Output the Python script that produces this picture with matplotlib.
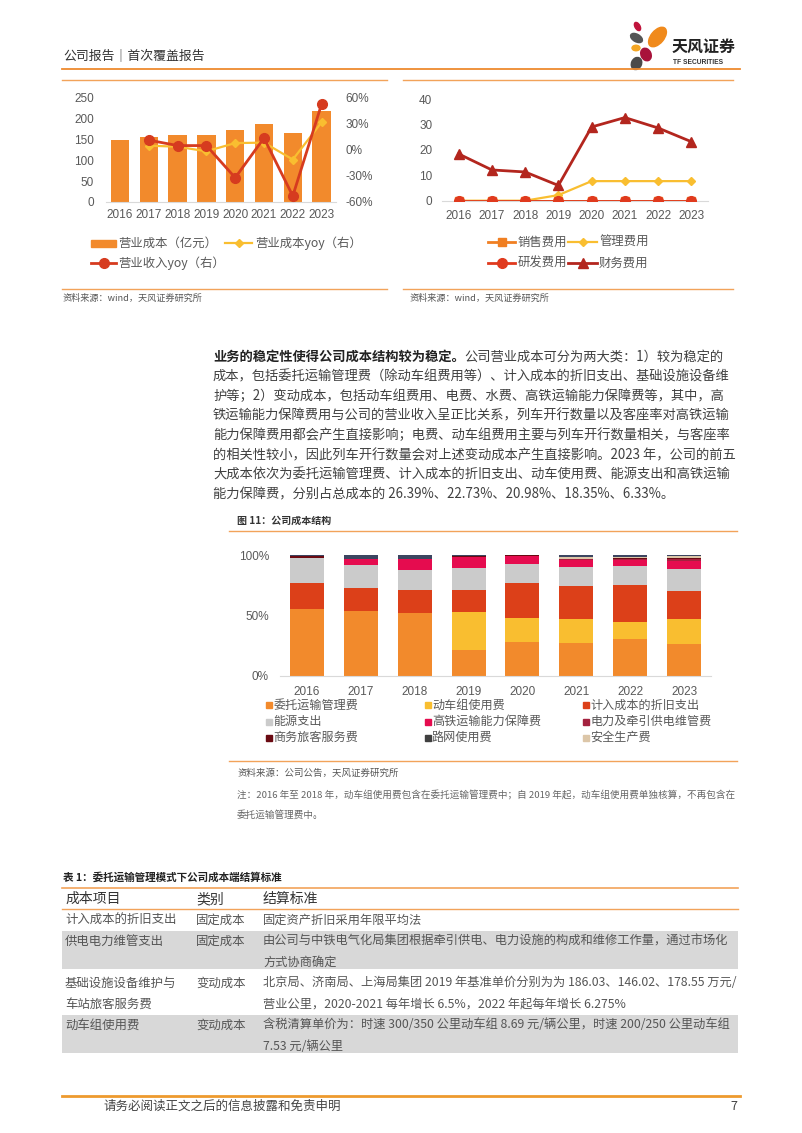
import matplotlib
matplotlib.use('Agg')
import matplotlib.pyplot as plt
from matplotlib.patches import Rectangle, Ellipse
from matplotlib.lines import Line2D
import numpy as np

W, H = 802, 1133
plt.rcParams['font.family'] = ['Liberation Sans', 'Noto Sans CJK SC']
CJK = ['Noto Sans CJK SC', 'Liberation Sans']

# ---------------- data ----------------
years = ['2016', '2017', '2018', '2019', '2020', '2021', '2022', '2023']
op_cost = [149, 156, 162, 160, 172, 187, 167, 218]                       # 营业成本（亿元）
op_cost_yoy = [np.nan, 5.0, 3.8, -1.5, 8.0, 8.5, -11.0, 32.0]             # 营业成本yoy %
revenue_yoy = [np.nan, 11.4, 5.1, 5.1, -32.0, 13.8, -53.0, 53.0]          # 营业收入yoy %

sales_fee = [0, 0, 0, 0, 0, 0, 0, 0]
admin_fee = [0, 0, 0, 2.2, 7.7, 7.7, 7.7, 7.7]
rd_fee = [0, 0, 0, 0, 0, 0, 0, 0]
fin_fee = [18.4, 12.1, 11.3, 6.0, 29.0, 32.7, 28.6, 23.2]

cost_items = ['委托运输管理费', '动车组使用费', '计入成本的折旧支出', '能源支出',
              '高铁运输能力保障费', '电力及牵引供电维管费', '商务旅客服务费',
              '路网使用费', '安全生产费']
share_entrust = [55.4, 53.7, 52.1, 21.8, 27.8, 27.0, 30.3, 26.39]
share_emu = [0, 0, 0, 31.1, 20.1, 20.1, 14.3, 20.98]
share_depr = [21.7, 18.8, 19.0, 18.2, 29.2, 27.6, 30.6, 22.73]
share_energy = [20.7, 19.2, 16.5, 18.2, 15.7, 15.7, 16.0, 18.35]
share_hsr = [0, 4.6, 9.1, 8.9, 6.1, 5.5, 5.0, 6.33]
share_power = [0, 0, 0, 0.4, 0.3, 0.6, 0.5, 1.6]
share_service = [1.0, 0.5, 0, 0.6, 0.5, 0.6, 0.5, 0.8]
share_network = [1.2, 3.2, 3.3, 0.8, 0.3, 1.3, 1.3, 1.2]
share_safety = [0, 0, 0, 0, 0, 1.6, 1.5, 1.62]

C_ORANGE = '#F28A2C'
C_YELLOW = '#F9BE30'
C_RED = '#DC4019'
C_GRAY = '#CBCBCB'
C_CRIMSON = '#E50C4F'
C_POWER = '#A4223F'
C_SERVICE = '#6A0A12'
C_NETWORK = '#3C4560'
C_SAFETY = '#DCC6A8'
LINE_OR = '#F2A35A'
TXT = '#404040'
TICK = '#595959'

fig = plt.figure(figsize=(W / 100, H / 100), dpi=100)
fig.patch.set_facecolor('white')

ov = fig.add_axes([0, 0, 1, 1])
ov.set_xlim(0, W)
ov.set_ylim(H, 0)
ov.axis('off')


def rect(x0, y0, x1, y1):
    return [x0 / W, 1 - y1 / H, (x1 - x0) / W, (y1 - y0) / H]


def hline(y, x0, x1, color=LINE_OR, lw=1.0):
    ov.add_line(Line2D([x0, x1], [y, y], color=color, lw=lw))


def txt(x, y, s, size, color=TXT, weight='normal', ha='left', fam=CJK):
    return ov.text(x, y, s, fontsize=size, color=color, fontweight=weight,
                   ha=ha, va='center', family=fam)


# ---------------- header ----------------
txt(63, 57, '公司报告｜首次覆盖报告', 9.3, color='#333333')
hline(69, 62, 740, color='#EE8A2E', lw=1.3)
# logo
ov.add_patch(Ellipse((637.5, 26.5), 5, 9, angle=-30, color='#C0143C'))
ov.add_patch(Ellipse((636.5, 38), 13, 7.5, angle=30, color='#555555'))
ov.add_patch(Ellipse((657.5, 37), 13, 23, angle=40, color='#F08A1C'))
ov.add_patch(Ellipse((636, 48), 8, 5.5, angle=0, color='#F5A623'))
ov.add_patch(Ellipse((646, 54.5), 10, 13, angle=-25, color='#A8123A'))
ov.add_patch(Ellipse((636.5, 63.5), 10, 12.5, angle=25, color='#4A4A4A'))
txt(672, 47, '天风证券', 11.5, color='#222222', weight='bold')
txt(673, 63, 'TF SECURITIES', 4.8, color='#333333', weight='bold', fam=['Liberation Sans'])

# ---------------- top panels frames ----------------
hline(80, 62, 387)
hline(80, 403, 733)
hline(289, 62, 387)
hline(289, 403, 733)
txt(63, 298, '资料来源：wind，天风证券研究所', 6.6, color='#555555')
txt(410, 298, '资料来源：wind，天风证券研究所', 6.6, color='#555555')

x = np.arange(len(years))


def style_axis(ax, pad_y, pad_x, size=8.5):
    for s in ax.spines.values():
        s.set_visible(False)
    ax.tick_params(axis='both', length=0, labelsize=size, labelcolor=TICK)
    ax.tick_params(axis='y', pad=pad_y)
    ax.tick_params(axis='x', pad=pad_x)
    ax.set_facecolor('none')


# ---------------- chart 1 ----------------
ax1 = fig.add_axes(rect(105.6, 98, 336, 202))
ax1.bar(x, op_cost, width=0.64, color=C_ORANGE, zorder=2)
ax1.set_xlim(-0.5, len(years) - 0.5)
ax1.set_ylim(0, 250)
ax1.set_yticks(range(0, 251, 50))
ax1.set_xticks(x)
ax1.set_xticklabels(years)
style_axis(ax1, 8.5, 5)
ax1.spines['bottom'].set_visible(True)
ax1.spines['bottom'].set_color('#D9D9D9')
ax1b = ax1.twinx()
ax1b.plot(x, op_cost_yoy, color=C_YELLOW, lw=1.6, marker='D', ms=4.2, zorder=3)
ax1b.plot(x, revenue_yoy, color='#D63B1F', lw=2.0, marker='o', ms=7, zorder=4)
ax1b.set_ylim(-60, 60)
ax1b.set_yticks([-60, -30, 0, 30, 60])
ax1b.set_yticklabels([f'{v}%' for v in [-60, -30, 0, 30, 60]])
style_axis(ax1b, 7, 5)

# legend 1 (manual)
LG = 8.9
ov.add_patch(Rectangle((91, 239.5), 25, 7, color=C_ORANGE))
txt(118, 243, '营业成本（亿元）', LG, color=TICK)
ov.add_line(Line2D([225, 252], [243, 243], color=C_YELLOW, lw=1.6))
ov.add_line(Line2D([238.5], [243], color=C_YELLOW, marker='D', ms=4.2))
txt(255, 243, '营业成本yoy（右）', LG, color=TICK)
ov.add_line(Line2D([91, 116], [263, 263], color='#D63B1F', lw=2.0))
ov.add_line(Line2D([103.5], [263], color='#D63B1F', marker='o', ms=7))
txt(118, 263, '营业收入yoy（右）', LG, color=TICK)

# ---------------- chart 2 ----------------
ax2 = fig.add_axes(rect(442, 99, 708, 200.7))
ax2.plot(x, sales_fee, color='#F07F22', lw=2, marker='s', ms=6, zorder=3)
ax2.plot(x, admin_fee, color=C_YELLOW, lw=1.6, marker='D', ms=4.2, zorder=3)
ax2.plot(x, rd_fee, color='#E03A1E', lw=2, marker='o', ms=7, zorder=4)
ax2.plot(x, fin_fee, color='#B3261E', lw=2, marker='^', ms=6.5, zorder=5)
ax2.set_xlim(-0.5, len(years) - 0.5)
ax2.set_ylim(0, 40)
ax2.set_yticks(range(0, 41, 10))
ax2.set_xticks(x)
ax2.set_xticklabels(years)
style_axis(ax2, 7, 6.5)
ax2.spines['bottom'].set_visible(True)
ax2.spines['bottom'].set_color('#D9D9D9')

ov.add_line(Line2D([488, 515], [242, 242], color='#F07F22', lw=2))
ov.add_line(Line2D([501.5], [242], color='#F07F22', marker='s', ms=6))
txt(518, 242, '销售费用', LG, color=TICK)
ov.add_line(Line2D([568, 597], [242, 242], color=C_YELLOW, lw=1.6))
ov.add_line(Line2D([582.5], [242], color=C_YELLOW, marker='D', ms=4.2))
txt(599, 242, '管理费用', LG, color=TICK)
ov.add_line(Line2D([488, 515], [263, 263], color='#E03A1E', lw=2))
ov.add_line(Line2D([501.5], [263], color='#E03A1E', marker='o', ms=7))
txt(518, 263, '研发费用', LG, color=TICK)
ov.add_line(Line2D([568, 597], [263, 263], color='#B3261E', lw=2))
ov.add_line(Line2D([582.5], [263], color='#B3261E', marker='^', ms=6.5))
txt(599, 263, '财务费用', LG, color=TICK)

# ---------------- paragraph ----------------
para_bold = '业务的稳定性使得公司成本结构较为稳定。'
para_lines = [
    '公司营业成本可分为两大类：1）较为稳定的',
    '成本，包括委托运输管理费（除动车组费用等）、计入成本的折旧支出、基础设施设备维',
    '护等；2）变动成本，包括动车组费用、电费、水费、高铁运输能力保障费等，其中，高',
    '铁运输能力保障费用与公司的营业收入呈正比关系，列车开行数量以及客座率对高铁运输',
    '能力保障费用都会产生直接影响；电费、动车组费用主要与列车开行数量相关，与客座率',
    '的相关性较小，因此列车开行数量会对上述变动成本产生直接影响。2023 年，公司的前五',
    '大成本依次为委托运输管理费、计入成本的折旧支出、动车使用费、能源支出和高铁运输',
    '能力保障费，分别占总成本的 26.39%、22.73%、20.98%、18.35%、6.33%。',
]
PS = 9.55
y0 = 357
bt = txt(213, y0, para_bold, PS, color='#222222', weight='bold')
ov.annotate(para_lines[0], xy=(1, 0.5), xycoords=bt, va='center', ha='left',
            fontsize=PS, color=TXT, family=CJK)
for i, line in enumerate(para_lines[1:], start=1):
    txt(213, y0 + 19.6 * i, line, PS)

# ---------------- chart 3 ----------------
txt(237, 521, '图 11：公司成本结构', 7.2, color='#333333', weight='bold')
hline(531, 229, 737)
ax3 = fig.add_axes(rect(280, 555, 711, 676))
stack = [
    (share_entrust, C_ORANGE),
    (share_emu, C_YELLOW),
    (share_depr, C_RED),
    (share_energy, C_GRAY),
    (share_hsr, C_CRIMSON),
    (share_power, C_POWER),
    (share_service, C_SERVICE),
    (share_safety, C_SAFETY),
    (share_network, C_NETWORK),
]
bottom = np.zeros(len(years))
for vals, col in stack:
    v = np.array(vals, dtype=float) / 100
    ax3.bar(x, v, bottom=bottom, width=0.63, color=col, zorder=2)
    bottom += v
ax3.set_xlim(-0.5, len(years) - 0.5)
ax3.set_ylim(0, 1)
ax3.set_yticks([0, 0.5, 1])
ax3.set_yticklabels(['0%', '50%', '100%'])
ax3.set_xticks(x)
ax3.set_xticklabels(years)
style_axis(ax3, 8, 7)
ax3.spines['bottom'].set_visible(True)
ax3.spines['bottom'].set_color('#D9D9D9')

leg_colors = [C_ORANGE, C_YELLOW, C_RED, C_GRAY, C_CRIMSON, C_POWER,
              C_SERVICE, '#404040', C_SAFETY]
col_x = [266, 424.5, 582.5]
row_y = [705, 721.5, 737.5]
for k, (name, col) in enumerate(zip(cost_items, leg_colors)):
    cx = col_x[k % 3]
    ry = row_y[k // 3]
    ov.add_patch(Rectangle((cx, ry - 3), 6, 6, color=col))
    txt(cx + 7.5, ry, name, 8.7, color=TICK)

hline(761, 229, 737)
txt(237, 773, '资料来源：公司公告，天风证券研究所', 6.8, color='#555555')
txt(237, 795, '注：2016 年至 2018 年，动车组使用费包含在委托运输管理费中；自 2019 年起，动车组使用费单独核算，不再包含在',
    6.9, color='#666666')
txt(237, 815, '委托运输管理费中。', 6.9, color='#666666')

# ---------------- table ----------------
tbl_header = ['成本项目', '类别', '结算标准']
tbl_items = [['计入成本的折旧支出'], ['供电电力维管支出'], ['基础设施设备维护与', '车站旅客服务费'], ['动车组使用费']]
tbl_types = ['固定成本', '固定成本', '变动成本', '变动成本']
tbl_rules = [
    ['固定资产折旧采用年限平均法'],
    ['由公司与中铁电气化局集团根据牵引供电、电力设施的构成和维修工作量，通过市场化', '方式协商确定'],
    ['北京局、济南局、上海局集团 2019 年基准单价分别为为 186.03、146.02、178.55 万元/',
     '营业公里，2020-2021 每年增长 6.5%，2022 年起每年增长 6.275%'],
    ['含税清算单价为：时速 300/350 公里动车组 8.69 元/辆公里，时速 200/250 公里动车组',
     '7.53 元/辆公里'],
]
txt(63, 877, '表 1：委托运输管理模式下公司成本端结算标准', 7.6, color='#222222', weight='bold')
hline(888, 62, 738, lw=1.2)
col_tx = [65, 196, 263]
for cx, h in zip(col_tx, tbl_header):
    txt(cx, 899, h, 10, color='#333333')
hline(909, 62, 738, lw=1.0)
ov.add_patch(Rectangle((62, 931), 676, 38, color='#D8D8D8', lw=0))
ov.add_patch(Rectangle((62, 1015), 676, 38, color='#D8D8D8', lw=0))
row_first_y = [920, 941, 983, 1025]
TS = 8.95
for r in range(4):
    ry = row_first_y[r]
    for j, s in enumerate(tbl_items[r]):
        txt(col_tx[0], ry + 21.3 * j, s, TS, color='#555555')
    txt(col_tx[1], ry, tbl_types[r], TS, color='#555555')
    for j, s in enumerate(tbl_rules[r]):
        txt(col_tx[2], ry + 21.3 * j, s, 8.8, color='#555555')

# ---------------- footer ----------------
hline(1096, 62, 740, color='#EE9A2E', lw=2)
txt(103, 1106, '请务必阅读正文之后的信息披露和免责申明', 9, color='#444444')
txt(737, 1106, '7', 9, color='#444444', ha='right')

fig.savefig('out.png', dpi=100, facecolor='white')
